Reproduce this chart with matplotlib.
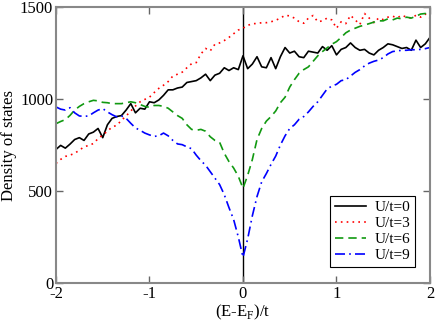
import numpy as np
import matplotlib
matplotlib.use("Agg")
import matplotlib.pyplot as plt

plt.rcParams['font.family'] = ['Liberation Serif', 'DejaVu Serif']
plt.rcParams['axes.unicode_minus'] = False
plt.rcParams['mathtext.fontset'] = 'custom'
plt.rcParams['mathtext.rm'] = 'Liberation Serif'

energy = np.round(np.arange(-2.0, 2.0001, 0.05), 2)

dos_u0 = [726, 748, 733, 755, 780, 790, 775, 810, 820, 840, 790, 860, 895, 905, 910, 940,
          975, 925, 950, 945, 985, 980, 995, 1020, 1050, 1050, 1060, 1065, 1090, 1095, 1100,
          1115, 1135, 1100, 1130, 1140, 1170, 1155, 1170, 1160, 1235,
          1165, 1190, 1230, 1175, 1170, 1225, 1165, 1230, 1280, 1250, 1260, 1230, 1225, 1260,
          1255, 1250, 1285, 1265, 1290, 1240, 1270, 1280, 1305, 1280, 1265, 1270, 1250, 1240,
          1265, 1280, 1300, 1295, 1285, 1275, 1280, 1265, 1320, 1280, 1300, 1335]

dos_u3 = [650, 672, 688, 695, 705, 722, 740, 748, 758, 785, 805, 825, 848, 857, 884, 908,
          935, 962, 985, 998, 1010, 1035, 1058, 1075, 1095, 1125, 1135, 1146, 1170, 1192, 1198,
          1245, 1275, 1262, 1298, 1305, 1318, 1335, 1355, 1375, 1385,
          1400, 1410, 1410, 1415, 1415, 1420, 1428, 1440, 1455, 1452, 1440, 1420, 1412, 1440,
          1454, 1420, 1425, 1440, 1430, 1385, 1420, 1410, 1455, 1430, 1405, 1465, 1440, 1415,
          1440, 1432, 1445, 1450, 1442, 1455, 1445, 1440, 1455, 1445, 1462, 1440]

dos_u6 = [866, 878, 888, 911, 940, 960, 975, 985, 993, 990, 982, 980, 975, 975, 975, 980,
          985, 980, 970, 960, 955, 965, 965, 960, 950, 930, 910, 895, 860, 835, 830,
          835, 825, 795, 775, 765, 705, 660, 625, 580, 515,
          585, 671, 780, 840, 880, 905, 935, 980, 1010, 1065, 1105, 1140, 1160, 1175,
          1205, 1235, 1258, 1278, 1298, 1312, 1335, 1360, 1375, 1385, 1395, 1402, 1410, 1418,
          1425, 1425, 1436, 1430, 1440, 1436, 1445, 1440, 1450, 1462, 1465, 1450]

dos_u9 = [957, 945, 940, 953, 925, 908, 906, 908, 925, 940, 948, 930, 915, 903, 908, 895,
          868, 843, 830, 815, 805, 797, 800, 815, 800, 775, 756, 752, 740, 730, 695,
          665, 640, 605, 570, 535, 480, 410, 345, 250, 140,
          240, 365, 470, 550, 595, 645, 690, 750, 800, 840, 860, 890, 905, 930,
          960, 985, 1020, 1055, 1070, 1080, 1100, 1105, 1125, 1145, 1160, 1180, 1195, 1205,
          1212, 1225, 1245, 1258, 1262, 1265, 1265, 1268, 1268, 1270, 1274, 1280]

labels = ['U/t=0', 'U/t=3', 'U/t=6', 'U/t=9']
x_ticks = [-2, -1, 0, 1, 2]
y_ticks = [0, 500, 1000, 1500]

fig = plt.figure(figsize=(4.36, 3.22), dpi=100)
ax = fig.add_axes([0.1284, 0.1211, 0.8578, 0.857])

ax.axvline(0, color='black', lw=1.0, zorder=1)
ax.plot(energy, dos_u0, color='black', lw=1.2, ls='-', label=labels[0])
ax.plot(energy, dos_u3, color='#ff0000', lw=1.2, ls=(0, (1, 2.5)), label=labels[1])
ax.plot(energy, dos_u6, color='#119911', lw=1.2, ls=(0, (5, 3)), label=labels[2])
ax.plot(energy, dos_u9, color='#0000ff', lw=1.2, ls=(0, (6, 2.5, 1, 2.5)), label=labels[3])

ax.set_xlim(-2, 2)
ax.set_ylim(0, 1500)
ax.set_xticks(x_ticks)
ax.set_yticks(y_ticks)
ax.tick_params(direction='in', top=True, right=True, length=5, width=1,
               color='#666666', labelsize=12, pad=2)
for s in ax.spines.values():
    s.set_color('#888888')
    s.set_linewidth(1.5)

ax.set_xlabel('(E-E$_\\mathregular{F}$)/t', fontsize=12, labelpad=1)
ax.set_ylabel('Density of states', fontsize=12, labelpad=2)

leg = ax.legend(loc='lower right', bbox_to_anchor=(0.96, 0.058), fontsize=11,
                frameon=True, fancybox=False, edgecolor='black', framealpha=1,
                handlelength=2.0, handletextpad=0.6, borderpad=0.3, labelspacing=0.15,
                borderaxespad=0)
leg.get_frame().set_linewidth(0.8)

fig.savefig('out.png', dpi=100)
